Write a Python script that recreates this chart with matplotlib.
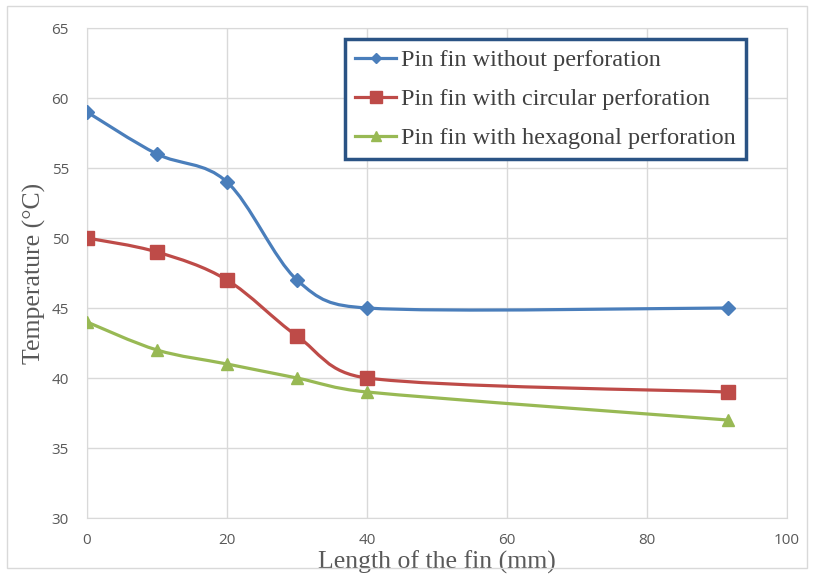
import numpy as np
import matplotlib.pyplot as plt
from matplotlib.path import Path
from matplotlib.patches import PathPatch, Rectangle
from matplotlib.lines import Line2D

# data
length = [0, 10, 20, 30, 40, 91.5]
no_perf = [59, 56, 54, 47, 45, 45]
circ_perf = [50, 49, 47, 43, 40, 39]
hex_perf = [44, 42, 41, 40, 39, 37]

labels = ['Pin fin without perforation',
          'Pin fin with circular perforation',
          'Pin fin with hexagonal perforation']
colors = ['#4A7EBB', '#BE4B48', '#98B954']
markers = ['D', 's', '^']
msizes = [7, 10, 9]

x_ticks = [0, 20, 40, 60, 80, 100]
y_ticks = [30, 35, 40, 45, 50, 55, 60, 65]


def smooth_path(ax, x, y):
    # Excel-style smoothed line: Catmull-Rom handles (1/6) in pixel space,
    # each handle limited to half of its segment, then back to data coords
    p = ax.transData.transform(np.column_stack([x, y]))
    n = len(p)
    verts = [p[0]]
    codes = [Path.MOVETO]
    for i in range(n - 1):
        p0 = p[i - 1] if i > 0 else p[i]
        p1, p2 = p[i], p[i + 1]
        p3 = p[i + 2] if i + 2 < n else p[i + 1]
        half = np.hypot(*(p2 - p1)) / 2
        h1 = (p2 - p0) / 6
        h2 = (p3 - p1) / 6
        l1, l2 = np.hypot(*h1), np.hypot(*h2)
        if l1 > half:
            h1 = h1 * half / l1
        if l2 > half:
            h2 = h2 * half / l2
        verts += [p1 + h1, p2 - h2, p2]
        codes += [Path.CURVE4] * 3
    verts = ax.transData.inverted().transform(np.array(verts))
    return Path(verts, codes)


fig = plt.figure(figsize=(8.13, 5.75), dpi=100)
ax = fig.add_axes([87 / 813, 57 / 575, 700 / 813, 490 / 575])
ax.set_xlim(0, 100)
ax.set_ylim(30, 65)

series = [no_perf, circ_perf, hex_perf]
for vals, c, m, ms in zip(series, colors, markers, msizes):
    ax.add_patch(PathPatch(smooth_path(ax, length, vals), fill=False,
                           edgecolor=c, lw=2.3, zorder=3))
    ax.plot(length, vals, ls='none', marker=m, ms=ms, color=c, zorder=4)

ax.set_xticks(x_ticks)
ax.set_yticks(y_ticks)
ax.grid(True, color='#D9D9D9', lw=1)
ax.set_axisbelow(True)
for s in ax.spines.values():
    s.set_color('#D9D9D9')
ax.tick_params(length=0, labelsize=11, colors='#595959')
ax.tick_params(axis='y', pad=13)
ax.tick_params(axis='x', pad=11)
for t in ax.get_xticklabels() + ax.get_yticklabels():
    t.set_fontfamily('Open Sans')

ax.set_xlabel('Length of the fin (mm)', family='Liberation Serif',
              fontsize=18.5, color='#595959', labelpad=2)
ax.set_ylabel('Temperature (°C)', family='Liberation Serif',
              fontsize=18.5, color='#595959', labelpad=4)

handles = [Line2D([], [], color=c, lw=2.3, marker=m, ms=ms * 0.8)
           for c, m, ms in zip(colors, markers, msizes)]
leg = ax.legend(handles, labels, loc='upper right',
                bbox_to_anchor=(746 / 813, 1 - 39 / 575), bbox_transform=fig.transFigure,
                prop={'family': 'Liberation Serif', 'size': 17.5},
                labelcolor='#404040', fancybox=False, framealpha=1,
                handlelength=1.7, handletextpad=0.2, borderpad=0.42,
                labelspacing=0.7, borderaxespad=0)
leg.get_frame().set_edgecolor('#2A5384')
leg.get_frame().set_linewidth(2.5)

# light outer border of the chart area
fig.patches.append(Rectangle((7 / 813, 7 / 575), 800 / 813, 562 / 575,
                             transform=fig.transFigure, fill=False,
                             edgecolor='#D9D9D9', lw=1))

plt.savefig('out.png', dpi=100)
